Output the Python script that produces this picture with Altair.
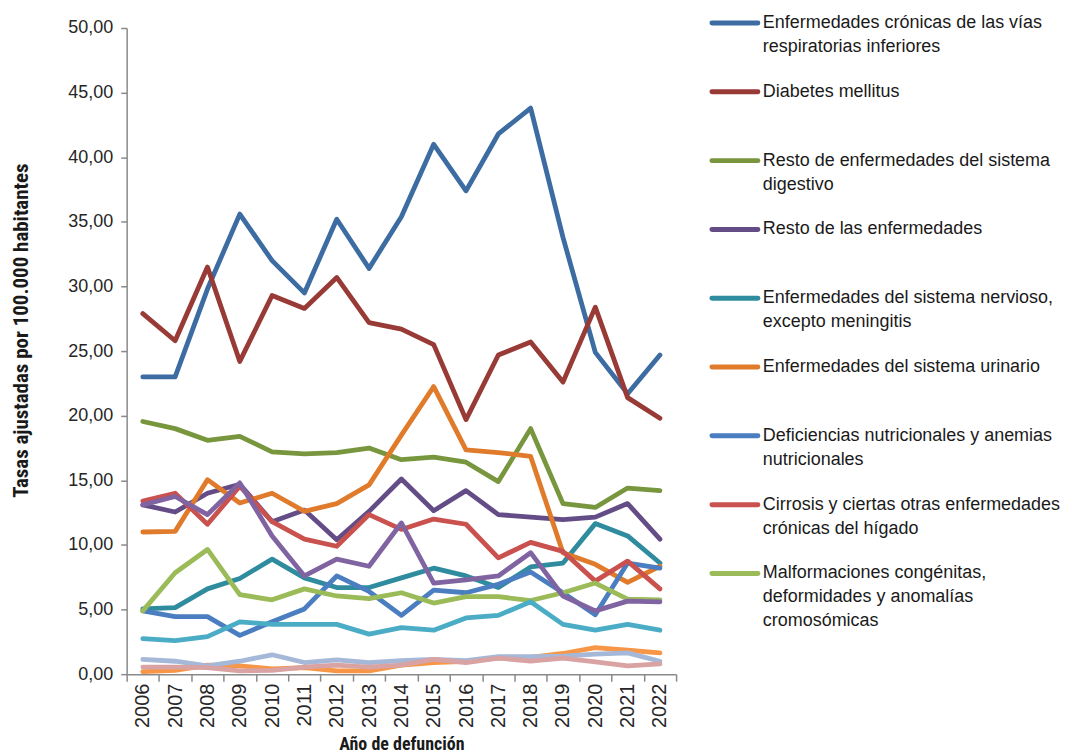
import altair as alt
import pandas as pd

years = list(range(2006, 2023))

names = [
    "Enfermedades crónicas de las vías respiratorias inferiores",
    "Diabetes mellitus",
    "Resto de enfermedades del sistema digestivo",
    "Resto de las enfermedades",
    "Enfermedades del sistema nervioso, excepto meningitis",
    "Enfermedades del sistema urinario",
    "Deficiencias nutricionales y anemias nutricionales",
    "Cirrosis y ciertas otras enfermedades crónicas del hígado",
    "Malformaciones congénitas, deformidades y anomalías cromosómicas",
    "Serie 10",
    "Serie 11",
    "Serie 12",
    "Serie 13",
    "Serie 14",
]

legend_labels = [
    "Enfermedades crónicas de las vías\nrespiratorias inferiores",
    "Diabetes mellitus",
    "Resto de enfermedades del sistema\ndigestivo",
    "Resto de las enfermedades",
    "Enfermedades del sistema nervioso,\nexcepto meningitis",
    "Enfermedades del sistema urinario",
    "Deficiencias nutricionales y anemias\nnutricionales",
    "Cirrosis y ciertas otras enfermedades\ncrónicas del hígado",
    "Malformaciones congénitas,\ndeformidades y anomalías\ncromosómicas",
]

colors = [
    "#3C6CA2", "#983A36", "#77963D", "#644D86", "#2F8C9E", "#E07B2B",
    "#4A7EC0", "#C9514E", "#9BBB59", "#8064A2", "#4BACC6", "#F79646",
    "#A5B8D8", "#D9A3A3",
]

resp_cronicas = [23.0, 23.0, 29.8, 35.6, 32.0, 29.5, 35.2, 31.4, 35.4, 41.0, 37.4, 41.8, 43.8, 33.8, 24.9, 21.7, 24.7]
diabetes = [27.9, 25.8, 31.5, 24.2, 29.3, 28.3, 30.7, 27.2, 26.7, 25.5, 19.7, 24.7, 25.7, 22.6, 28.4, 21.4, 19.8]
digestivo = [19.55, 19.0, 18.1, 18.4, 17.2, 17.05, 17.15, 17.5, 16.6, 16.8, 16.4, 14.9, 19.0, 13.2, 12.9, 14.4, 14.2]
resto = [13.1, 12.55, 14.0, 14.7, 11.8, 12.7, 10.4, 12.6, 15.1, 12.65, 14.2, 12.35, 12.15, 11.95, 12.15, 13.2, 10.45]
nervioso = [5.05, 5.15, 6.6, 7.4, 8.9, 7.45, 6.7, 6.7, 7.45, 8.2, 7.6, 6.7, 8.3, 8.6, 11.65, 10.7, 8.6]
urinario = [11.0, 11.05, 15.05, 13.25, 14.0, 12.6, 13.2, 14.65, 18.5, 22.25, 17.35, 17.15, 16.85, 9.4, 8.5, 7.1, 8.35]
deficiencias = [4.9, 4.45, 4.45, 3.0, 4.05, 5.05, 7.6, 6.4, 4.55, 6.5, 6.3, 6.95, 7.9, 6.3, 4.6, 8.6, 8.2]
cirrosis = [13.4, 14.0, 11.6, 14.55, 11.8, 10.45, 9.9, 12.35, 11.2, 12.0, 11.6, 9.0, 10.2, 9.5, 7.2, 8.75, 6.6]
malformaciones = [4.9, 7.85, 9.65, 6.15, 5.75, 6.6, 6.05, 5.85, 6.3, 5.5, 6.0, 6.0, 5.7, 6.3, 7.05, 5.8, 5.75]
serie10 = [13.1, 13.75, 12.35, 14.8, 10.7, 7.6, 8.9, 8.35, 11.7, 7.05, 7.3, 7.6, 9.4, 6.05, 4.9, 5.65, 5.6]
serie11 = [2.75, 2.6, 2.9, 4.05, 3.85, 3.85, 3.85, 3.1, 3.6, 3.4, 4.35, 4.55, 5.6, 3.85, 3.4, 3.85, 3.4]
serie12 = [0.2, 0.3, 0.7, 0.65, 0.4, 0.5, 0.25, 0.25, 0.7, 0.9, 1.0, 1.25, 1.3, 1.6, 2.05, 1.85, 1.65]
serie13 = [1.15, 1.0, 0.65, 1.0, 1.5, 0.9, 1.1, 0.9, 1.05, 1.15, 1.05, 1.35, 1.35, 1.4, 1.55, 1.65, 1.0]
serie14 = [0.55, 0.55, 0.5, 0.25, 0.3, 0.55, 0.7, 0.55, 0.7, 1.15, 0.9, 1.25, 1.0, 1.25, 0.95, 0.65, 0.8]

series = [resp_cronicas, diabetes, digestivo, resto, nervioso, urinario,
          deficiencias, cirrosis, malformaciones, serie10, serie11, serie12,
          serie13, serie14]

rows = []
for order, (name, vals) in enumerate(zip(names, series)):
    for yr, v in zip(years, vals):
        rows.append({"Año": str(yr), "serie": name, "valor": v, "orden": order})
df = pd.DataFrame(rows)

leg = pd.DataFrame({
    "serie": names[:9],
    "etiqueta": legend_labels,
    "idx": list(range(9)),
})

FONT = "Liberation Sans, Arial, sans-serif"
NARROW = "Liberation Sans Narrow, Arial Narrow, Roboto Condensed, DejaVu Sans Condensed, sans-serif"
W, H = 551, 648

color_scale = alt.Scale(domain=names, range=colors)

lines = alt.Chart(df).mark_line(
    strokeWidth=4.8, strokeJoin="round", strokeCap="round"
).encode(
    x=alt.X(
        "Año:O",
        bandPosition=0.5,
        scale=alt.Scale(type="band", paddingInner=0, paddingOuter=0),
        axis=alt.Axis(
            title="Año de defunción",
            labelAngle=-90,
            labelFontSize=20,
            tickBand="extent",
            tickSize=7,
            labelPadding=2,
            titlePadding=8,
            titleFontSize=18,
        ),
    ),
    y=alt.Y(
        "valor:Q",
        scale=alt.Scale(domain=[0, 50], nice=False),
        axis=alt.Axis(
            title="Tasas ajustadas por 100.000 habitantes",
            values=list(range(0, 55, 5)),
            labelExpr="replace(format(datum.value, '.2f'), '.', ',')",
            tickSize=6,
            labelPadding=8,
            titlePadding=36,
            titleFontSize=21,
            titleY=303,
            grid=False,
        ),
    ),
    color=alt.Color("serie:N", scale=color_scale, legend=None),
    order=alt.Order("orden:Q"),
)

leg_scale = alt.Scale(domain=[5 / 69, 5 / 69 + H / 69], nice=False, zero=False, reverse=True)

leg_rules = alt.Chart(leg).mark_rule(strokeWidth=5, strokeCap="round").encode(
    x=alt.value(587),
    x2=alt.value(633),
    y=alt.Y("idx:Q", scale=leg_scale, axis=None),
    color=alt.Color("serie:N", scale=color_scale, legend=None),
)

leg_text = alt.Chart(leg).mark_text(
    align="left", baseline="top", lineBreak="\n", lineHeight=24,
    fontSize=18, dy=-9, font=FONT, color="#1a1a1a",
).encode(
    x=alt.value(638),
    y=alt.Y("idx:Q", scale=leg_scale, axis=None),
    text="etiqueta:N",
)

chart = alt.layer(lines, leg_rules, leg_text).resolve_scale(
    y="independent"
).properties(
    width=W,
    height=H,
    padding={"left": 2, "top": 5, "right": 0, "bottom": 0},
).configure_view(
    stroke=None
).configure_axis(
    domainColor="#8a8a8a",
    domainWidth=1.5,
    tickColor="#8a8a8a",
    tickWidth=1.5,
    labelFont=FONT,
    labelFontSize=18,
    labelColor="#262626",
    titleFont=NARROW,
    titleFontSize=19,
    titleFontWeight="bold",
    titleColor="#1a1a1a",
)

chart.save("out.html", embed_options={"renderer": "svg", "actions": False})
